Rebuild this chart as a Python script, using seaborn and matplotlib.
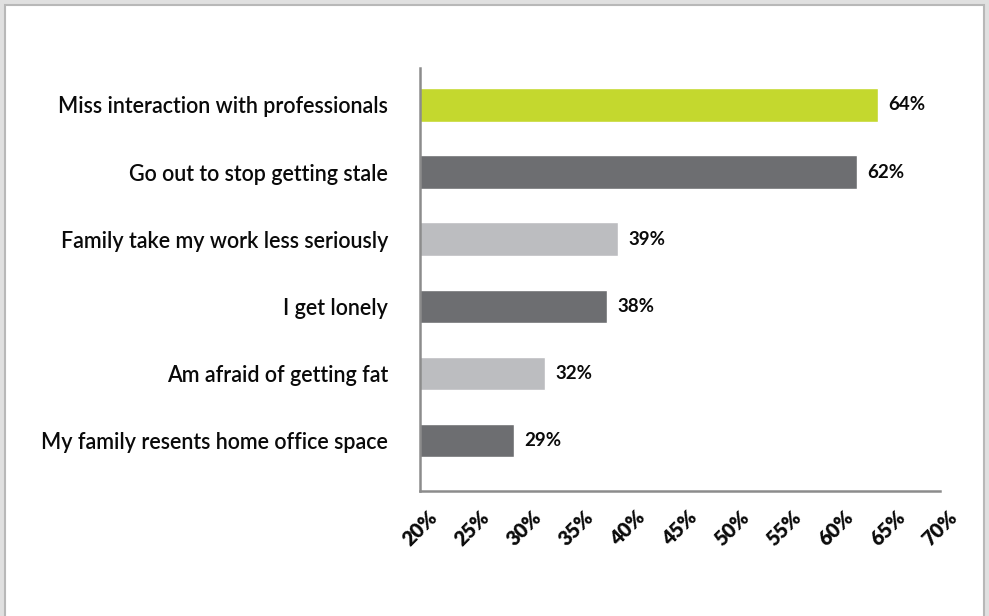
import matplotlib
matplotlib.use("Agg")
import matplotlib.pyplot as plt
from matplotlib.patches import Rectangle
import seaborn as sns
import pandas as pd

categories = [
    "Miss interaction with professionals",
    "Go out to stop getting stale",
    "Family take my work less seriously",
    "I get lonely",
    "Am afraid of getting fat",
    "My family resents home office space",
]
values = [64, 62, 39, 38, 32, 29]
bar_colors = ["#c4d82e", "#6d6e71", "#bcbdc0", "#6d6e71", "#bcbdc0", "#6d6e71"]
x_ticks = [20, 25, 30, 35, 40, 45, 50, 55, 60, 65, 70]

sns.set_theme(style="white")
plt.rcParams["font.family"] = ["Lato", "DejaVu Sans"]

df = pd.DataFrame({"reason": categories, "pct": values})

fig = plt.figure(figsize=(9.89, 6.16), dpi=100, facecolor="#e0e0e0")
# white card with a thin grey frame, drawn behind the axes
fig.patches.append(Rectangle((5 / 989, -0.02), 979 / 989, 1 - 5 / 616 + 0.02,
                             transform=fig.transFigure, facecolor="white",
                             edgecolor="#b8b8b8", linewidth=1.5, zorder=-10))

ax = fig.add_axes([420 / 989, (616 - 491) / 616, 520 / 989, (491 - 68) / 616])
ax.set_facecolor("none")

sns.barplot(data=df, y="reason", x="pct", hue="reason", palette=bar_colors,
            order=categories, hue_order=categories, orient="h", width=0.5,
            legend=False, ax=ax, saturation=1)

ax.set_xlim(20, 70)
ax.set_ylim(5.75, -0.55)
ax.set_xticks(x_ticks)
ax.set_xticklabels([f"{t}%" for t in x_ticks], rotation=45, ha="center",
                   fontsize=14.5, fontweight="heavy", color="#0a0a0a")
ax.set_yticks(range(len(categories)))
ax.set_yticklabels(categories, fontsize=15.5, fontweight="semibold",
                   color="#0a0a0a")
ax.tick_params(axis="y", length=0, pad=23)
ax.tick_params(axis="x", length=0, pad=12)
ax.set_xlabel("")
ax.set_ylabel("")

for s in ["top", "right"]:
    ax.spines[s].set_visible(False)
for s in ["left", "bottom"]:
    ax.spines[s].set_color("#8c8c8c")
    ax.spines[s].set_linewidth(1.8)

for i, v in enumerate(values):
    ax.annotate(f"{v}%", xy=(v, i), xytext=(7.5, 0), textcoords="offset points",
                va="center", ha="left", fontsize=13.5, fontweight="bold",
                color="#0a0a0a")

fig.savefig("out.png", dpi=100, facecolor=fig.get_facecolor())
